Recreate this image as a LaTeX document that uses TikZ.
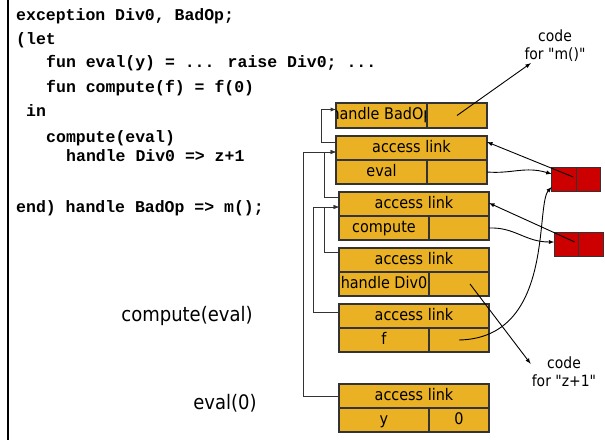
\documentclass[tikz,border=0pt]{standalone}
\usepackage{fontspec}
\usetikzlibrary{positioning}
\newfontfamily\framefont[FakeStretch=0.9]{DejaVu Sans}
\newfontfamily\codefont{Liberation Mono}
\definecolor{frameyellow}{HTML}{E9B123}
\definecolor{closurered}{HTML}{CC0000}

\begin{document}
\begin{tikzpicture}[x=1pt, y=-1pt, -latex,
  cell/.style={draw=black!80, line width=1.2pt, fill=frameyellow, minimum height=24pt, inner sep=0pt, outer sep=0pt, text height=12pt, text depth=3.5pt, font=\framefont\fontsize{16}{19}\selectfont},
  linkrow/.style={cell, minimum width=150pt},
  namecell/.style={cell, minimum width=90pt},
  valcell/.style={cell, minimum width=60pt},
  closure/.style={draw=black!80, line width=1pt, fill=closurered, minimum width=24.5pt, minimum height=24pt, inner sep=0pt, outer sep=0pt},
  link/.style={draw=black!80, line width=0.9pt},
  ptr/.style={draw=black, line width=0.9pt},
  codeline/.style={anchor=base west, inner sep=0pt, font=\codefont\bfseries\fontsize{16.5}{19}\selectfont},
  note/.style={align=center, inner sep=1pt, font=\framefont\fontsize{15.5}{18}\selectfont},
  call/.style={font=\framefont\fontsize{20}{24}\selectfont}]
	\useasboundingbox (0,0) rectangle (605,440);
	\draw[-, line width=2pt] (8,0) -- (8,440);

	% program text
	\node[codeline] (c1) at (16,20.5) {exception Div0, BadOp;};
	\node[codeline] (c2) at (16,44.5) {(let};
	\node[codeline] (c3) at (46,67.5) {fun eval(y) = ... raise Div0; ...};
	\node[codeline] (c4) at (46,92) {fun compute(f) = f(0)};
	\node[codeline] (c5) at (26,116) {in};
	\node[codeline] (c6) at (46,142.5) {compute(eval)};
	\node[codeline] (c7) at (66,161.5) {handle Div0 => z+1};
	\node[codeline] (c8) at (16,212.5) {end) handle BadOp => m();};

	% activation records
	\node[namecell, minimum width=91pt, minimum height=25pt, anchor=north west] (hbad) at (336,103) {};
	\begin{scope}
		\clip (hbad.south west) rectangle (hbad.north east);
		\node[cell, draw=none, fill=none] (hbadtext) at (hbad.center) {handle BadOp};
	\end{scope}
	\node[valcell, minimum height=25pt, right=0pt of hbad] (hv) {};

	\node[linkrow, minimum width=151pt, anchor=north west] (al1) at (336,136) {access link};
	\node[namecell, minimum width=91pt, anchor=north west] (n1) at (al1.south west) {eval};
	\node[valcell, right=0pt of n1] (v1) {};

	\node[linkrow, anchor=north west] (al2) at (339,192) {access link};
	\node[namecell, anchor=north west] (n2) at (al2.south west) {compute};
	\node[valcell, right=0pt of n2] (v2) {};

	\node[linkrow, anchor=north west] (al3) at (339,248) {access link};
	\node[namecell, anchor=north west] (n3) at (al3.south west) {handle Div0};
	\node[valcell, right=0pt of n3] (hd) {};

	\node[linkrow, anchor=north west] (al4) at (339,304) {access link};
	\node[namecell, anchor=north west] (n4) at (al4.south west) {f};
	\node[valcell, right=0pt of n4] (v4) {};

	\node[linkrow, anchor=north west] (al5) at (339,384) {access link};
	\node[namecell, anchor=north west] (n5) at (al5.south west) {y};
	\node[valcell, right=0pt of n5] (v5) {0};

	% closures
	\node[closure] (cl1a) at (564,179) {};
	\node[closure, right=0pt of cl1a] (cl1b) {};
	\node[closure] (cl2a) at (566.5,244) {};
	\node[closure, right=0pt of cl2a] (cl2b) {};

	\node[note] (codem) at (555,46) {code\\for "m()"};
	\node[note] (codez) at (564,372) {code\\for "z+1"};
	\node[call] (callc) at (187,316) {compute(eval)};
	\node[call] (calle) at (225,403) {eval(0)};

	% access links
	\draw[link] ([yshift=6pt]al1.west) -- ++(-15,0) |- ([yshift=6pt]hbad.west);
	\draw[link] ([yshift=7pt]al2.west) -- ++(-15,0) |- ([yshift=-4pt]al1.west);
	\draw[link] (al5.west) -- ++(-36,0) |- ([yshift=-4pt]al1.west);
	\draw[link] ([yshift=8pt]al3.west) -- ++(-15,0) |- ([yshift=-3pt]al2.west);
	\draw[link] ([yshift=4pt]al4.west) -- ++(-26,0) |- ([yshift=-3pt]al2.west);

	% closure and handler pointers
	\draw[ptr] (v1.east) .. controls (512,174) and (525,166) .. ([yshift=5pt]cl1a.west);
	\draw[ptr] ([xshift=-3pt,yshift=2pt]cl1a.east) -- ([yshift=6pt]al1.east);
	\draw[ptr] (v2.east) .. controls (515,227) and (525,242) .. ([yshift=2pt]cl2a.west);
	\draw[ptr] ([xshift=-4pt,yshift=2pt]cl2a.east) -- ([yshift=1pt]al2.east);
	\draw[ptr] (v4.center) .. controls (555,338) and (535,205) .. ([yshift=4pt]cl1a.south west);
	\draw[ptr] (hv.center) -- (codem);
	\draw[ptr] ([xshift=11pt]hd.center) -- ([yshift=-8pt]codez.north west);
\end{tikzpicture}
\end{document}
